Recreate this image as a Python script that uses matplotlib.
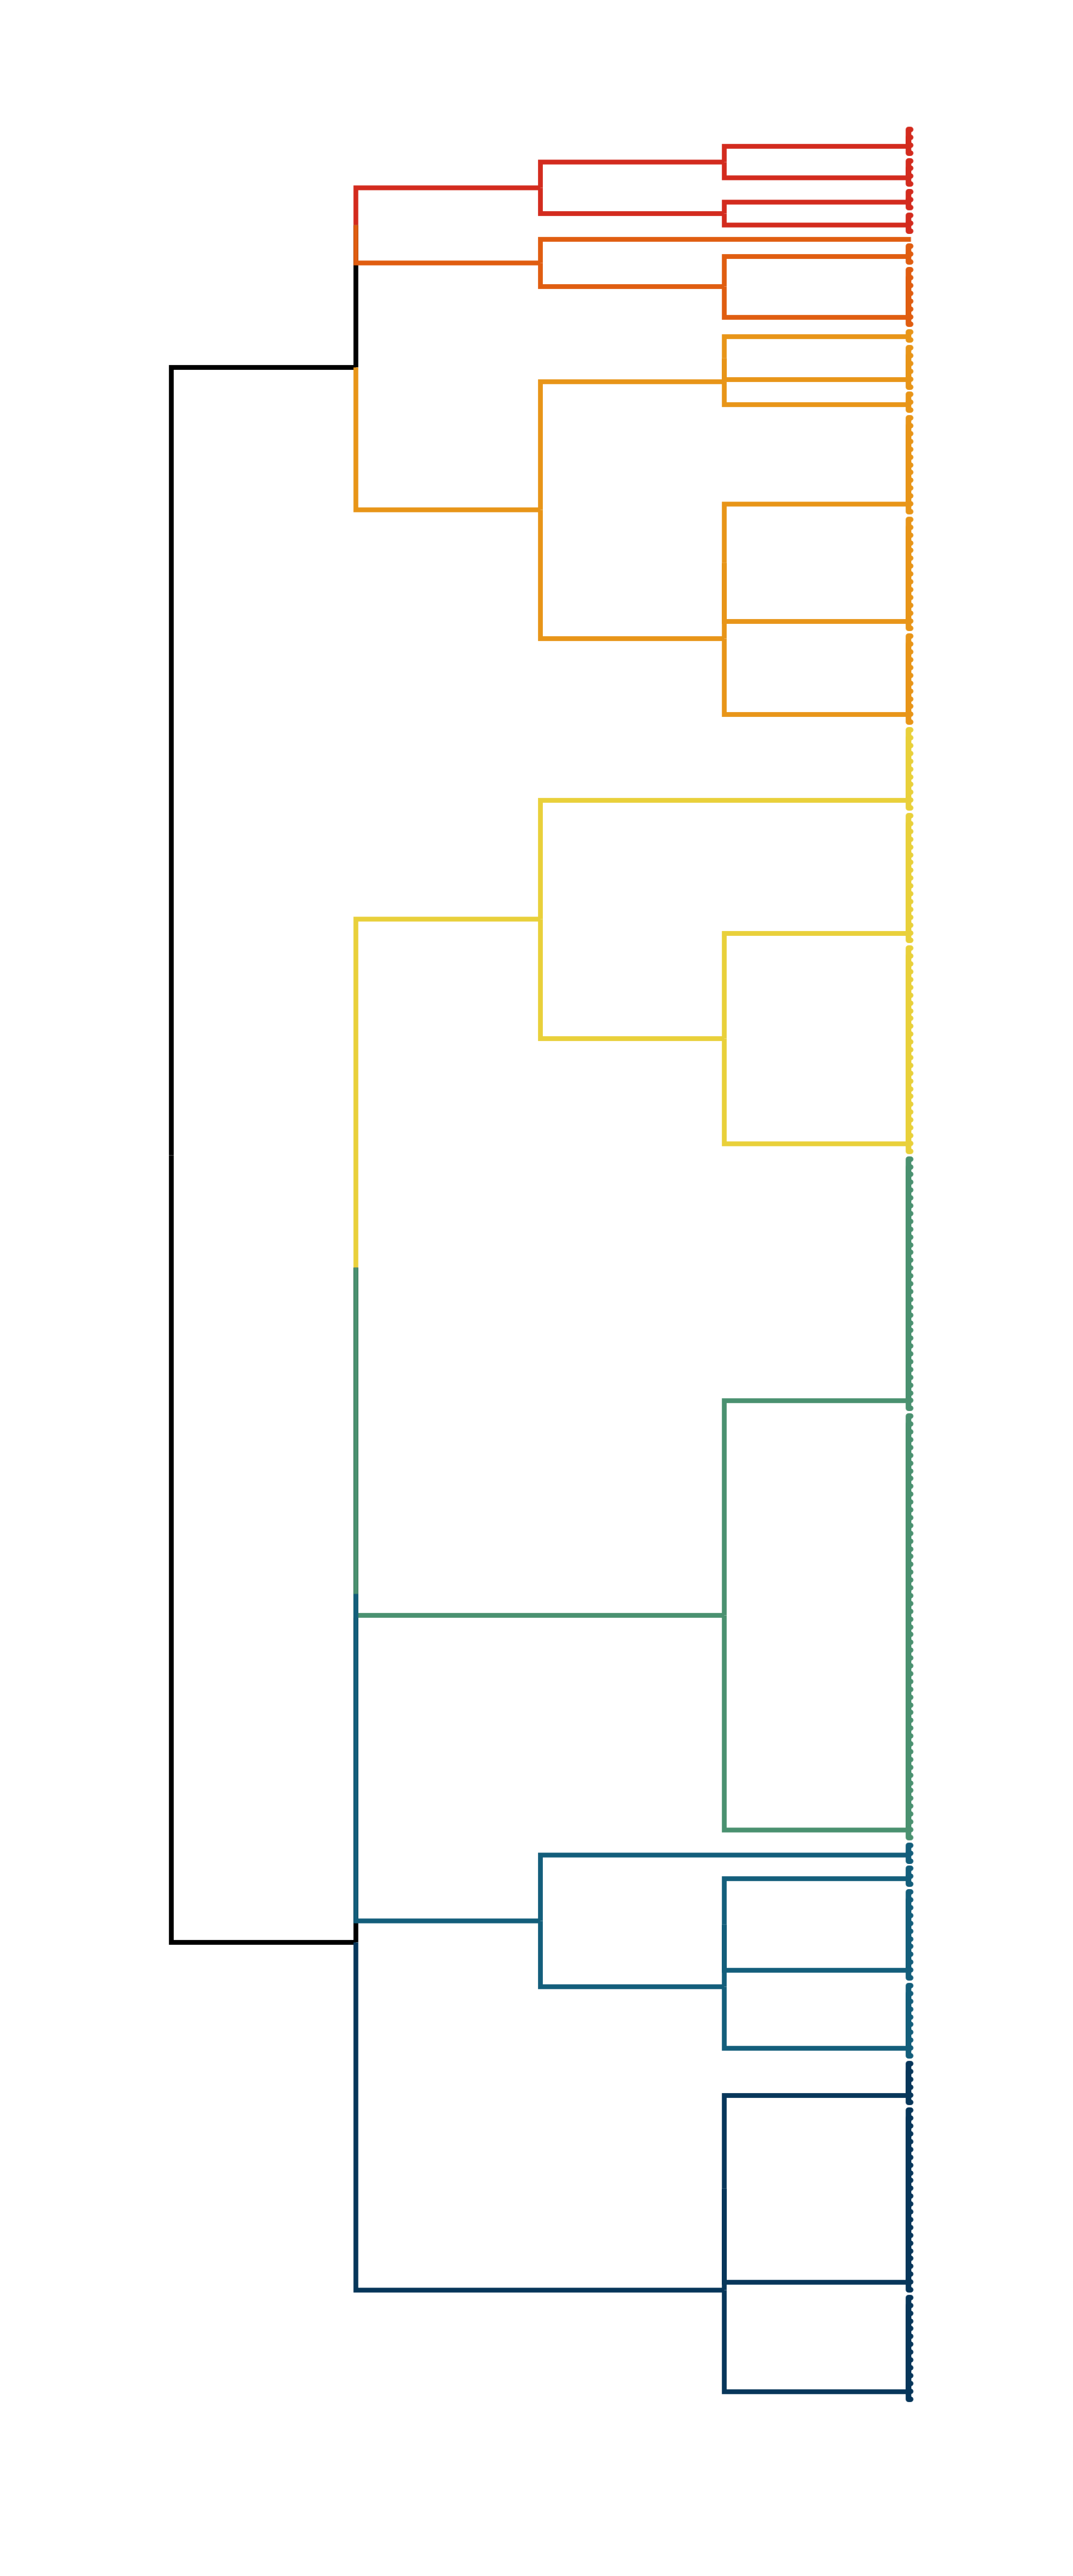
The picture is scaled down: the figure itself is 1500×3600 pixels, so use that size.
import matplotlib.pyplot as plt
import numpy as np

# leaf groups, top to bottom, with the number of leaves in each
group_labels = ['A', 'B', 'C', 'D', 's', 'E', 'F', 'G', 'H', 'I', 'J', 'K', 'L',
                'Y1', 'Y2', 'Y3', 'G1', 'G2', 'B1', 'B2', 'B3', 'B4', 'N1', 'N2', 'N3']
group_sizes = [4, 4, 3, 3, 1, 3, 8, 2, 6, 3, 13, 15, 12,
               11, 17, 27, 33, 55, 3, 3, 12, 10, 6, 24, 14]
group_cluster = [0, 0, 0, 0, 1, 1, 1, 2, 2, 2, 2, 2, 2,
                 3, 3, 3, 4, 4, 5, 5, 5, 5, 6, 6, 6]
cluster_colors = ['#D32B1E', '#E05D10', '#E89518', '#E9D03A',
                  '#4A9170', '#135E7B', '#07365A']

# merge tree: (merge level, [children]); strings are leaf groups
tree = (0, [
    (1, [
        (1, [
            (2, [(3, ['A', 'B']), (3, ['C', 'D'])]),
            (2, ['s', (3, ['E', 'F'])]),
        ]),
        (2, [(3, [(3, ['G', 'H']), 'I']), (3, [(3, ['J', 'K']), 'L'])]),
    ]),
    (1, [
        (1, [
            (1, [
                (2, ['Y1', (3, ['Y2', 'Y3'])]),
                (3, ['G1', 'G2']),
            ]),
            (2, ['B1', (3, [(3, ['B2', 'B3']), 'B4'])]),
        ]),
        (3, [(3, ['N1', 'N2']), 'N3']),
    ]),
])

GROUP_X = 4.0
LEAF_X = 4.01
LW = 4.8
LEAF_LW = 5.6

leaf_y = {}
start = 0
for lab, n in zip(group_labels, group_sizes):
    leaf_y[lab] = np.arange(start, start + n, dtype=float)
    start += n
cluster_of = dict(zip(group_labels, group_cluster))


def info(node):
    if isinstance(node, str):
        ys = leaf_y[node]
        if len(ys) == 1:
            return LEAF_X, ys[0], {cluster_of[node]}
        m = ys[0]
        for v in ys[1:]:
            m = (m + v) / 2
        return GROUP_X, m, {cluster_of[node]}
    level, kids = node
    parts = [info(k) for k in kids]
    y = np.mean([p[1] for p in parts])
    cl = set().union(*[p[2] for p in parts])
    return level, y, cl


fig = plt.figure(figsize=(15, 36), dpi=100)
ax = fig.add_axes([0, 0, 1, 1])


def draw(node):
    x, y, cl = info(node)
    if isinstance(node, str):
        ys = leaf_y[node]
        if len(ys) > 1:
            c = cluster_colors[cluster_of[node]]
            for v in ys:
                ax.plot([GROUP_X, GROUP_X, LEAF_X], [y, v, v], color=c, lw=LEAF_LW,
                        solid_capstyle='round', solid_joinstyle='round')
        return
    for kid in node[1]:
        kx, ky, kcl = info(kid)
        c = cluster_colors[next(iter(kcl))] if len(kcl) == 1 else 'black'
        ax.plot([x, x, kx], [y, ky, ky], color=c, lw=LW,
                solid_capstyle='butt', solid_joinstyle='miter')
        draw(kid)


draw(tree)

ax.set_xlim(-0.927, 4.892)
ax.set_ylim(313.7, -16.6)
ax.axis('off')
fig.savefig('out.png', dpi=100, facecolor='white')
